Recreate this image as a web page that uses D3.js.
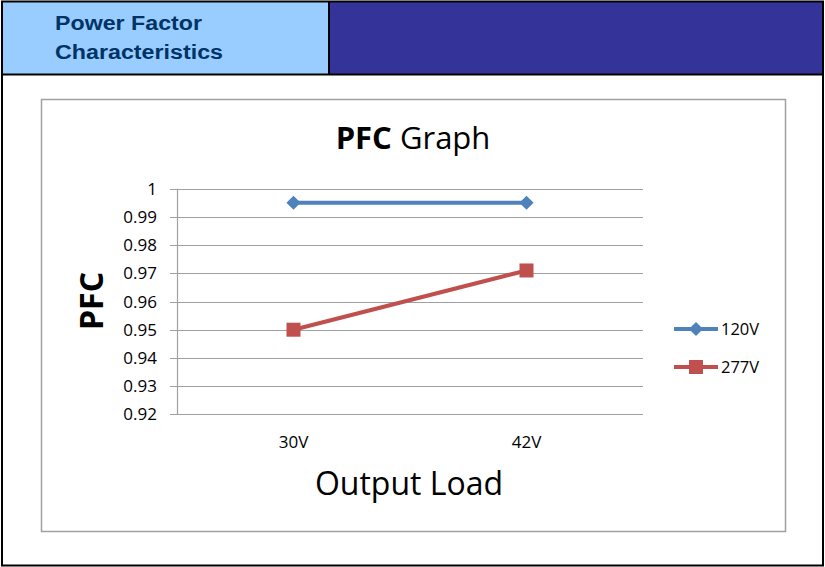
<!DOCTYPE html>
<html>
<head>
<meta charset="utf-8">
<script src="https://cdn.jsdelivr.net/npm/d3@7"></script>
<style>
  body { margin: 0; background: #fff; }
  svg { display: block; }
</style>
</head>
<body>
<svg width="825" height="567"></svg>
<script>
// Chart data
const categories = ['30V', '42V'];
const seriesNames = ['120V', '277V'];
const values120 = [0.995, 0.995];
const values277 = [0.95, 0.971];
const yTicks = [0.92, 0.93, 0.94, 0.95, 0.96, 0.97, 0.98, 0.99, 1];
const colors = ['#4f81bd', '#c0504d'];

const svg = d3.select('svg');
const font = '"Open Sans", "Liberation Sans", sans-serif';

// Header band
svg.append('rect').attr('x', 2).attr('y', 2).attr('width', 327).attr('height', 72).style('fill', '#99ccff');
svg.append('rect').attr('x', 329).attr('y', 2).attr('width', 494).attr('height', 72).style('fill', '#333399');
svg.append('line').attr('x1', 329).attr('x2', 329).attr('y1', 1).attr('y2', 75)
    .style('stroke', '#000').style('stroke-width', 2);
svg.append('line').attr('x1', 1).attr('x2', 824).attr('y1', 74.5).attr('y2', 74.5)
    .style('stroke', '#000').style('stroke-width', 2);

// Header text is drawn wider than normal, so stretch it with textLength
const header = svg.append('g')
    .style('font-family', 'Arial, "Liberation Sans", sans-serif')
    .style('font-weight', 'bold').style('font-size', '20px').style('fill', '#003366');
header.append('text').attr('x', 55).attr('y', 30)
    .attr('textLength', 147).attr('lengthAdjust', 'spacingAndGlyphs').text('Power Factor');
header.append('text').attr('x', 55).attr('y', 59)
    .attr('textLength', 168).attr('lengthAdjust', 'spacingAndGlyphs').text('Characteristics');

// Outer frame
svg.append('rect').attr('x', 2).attr('y', 1.5).attr('width', 821).attr('height', 564)
    .style('fill', 'none').style('stroke', '#000').style('stroke-width', 2);

// Chart box
svg.append('rect').attr('x', 41.5).attr('y', 99.5).attr('width', 744).attr('height', 432)
    .style('fill', '#fff').style('stroke', '#a0a0a0').style('stroke-width', 1.5);

// Plot area
const plotLeft = 177, plotRight = 643, plotTop = 188.7, plotBottom = 414.3;

const x = d3.scaleBand().domain(categories).range([plotLeft, plotRight]);
const y = d3.scaleLinear().domain([0.92, 1]).range([plotBottom, plotTop]);
const cx = c => x(c) + x.bandwidth() / 2;

// Gridlines
svg.append('g').selectAll('line').data(yTicks).join('line')
    .attr('x1', plotLeft - 7).attr('x2', plotRight)
    .attr('y1', d => Math.round(y(d)) + 0.5).attr('y2', d => Math.round(y(d)) + 0.5)
    .style('stroke', '#a0a0a0').style('stroke-width', 1.2);

// Vertical axis line
svg.append('line').attr('x1', plotLeft + 0.5).attr('x2', plotLeft + 0.5).attr('y1', plotTop).attr('y2', plotBottom)
    .style('stroke', '#a0a0a0').style('stroke-width', 1.2);

// Y tick labels
svg.append('g').selectAll('text').data(yTicks).join('text')
    .attr('x', 157).attr('y', d => y(d) + 6)
    .attr('text-anchor', 'end')
    .style('font-family', font).style('font-size', '17px').style('fill', '#000')
    .text(d => d);

// X category labels
svg.append('g').selectAll('text').data(categories).join('text')
    .attr('x', d => cx(d)).attr('y', 448)
    .attr('text-anchor', 'middle')
    .style('font-family', font).style('font-size', '17px').style('fill', '#000')
    .text(d => d);

// Titles
const title = svg.append('text').attr('x', 413).attr('y', 149).attr('text-anchor', 'middle')
    .style('font-family', font).style('font-size', '31px').style('fill', '#000');
title.append('tspan').style('font-weight', 'bold').text('PFC');
title.append('tspan').text(' Graph');

svg.append('text')
    .attr('transform', 'translate(103,301) rotate(-90)')
    .attr('text-anchor', 'middle')
    .style('font-family', font).style('font-size', '32px').style('font-weight', 'bold')
    .text('PFC');

svg.append('text').attr('x', 409).attr('y', 495).attr('text-anchor', 'middle')
    .style('font-family', font).style('font-size', '32px')
    .text('Output Load');

// Series
const series = [values120, values277];
const line = d3.line().x((d, i) => cx(categories[i])).y(d => y(d));

// Diamond = square turned 45 degrees, square marker as is
const markerPath = [d3.symbol().type(d3.symbolSquare).size(100)(), d3.symbol().type(d3.symbolSquare).size(196)()];
const markerRot = [45, 0];

series.forEach((vals, s) => {
    svg.append('path').datum(vals).attr('d', line)
        .style('fill', 'none').style('stroke', colors[s]).style('stroke-width', 4);
    svg.append('g').selectAll('path').data(vals).join('path')
        .attr('transform', (d, i) => `translate(${cx(categories[i])},${y(d)}) rotate(${markerRot[s]})`)
        .attr('d', markerPath[s])
        .style('fill', colors[s]);
});

// Legend
const legendY = [329, 367];
seriesNames.forEach((name, s) => {
    const g = svg.append('g').attr('transform', `translate(674,${legendY[s]})`);
    g.append('line').attr('x1', 0).attr('x2', 44).attr('y1', 0).attr('y2', 0)
        .style('stroke', colors[s]).style('stroke-width', 4);
    g.append('path').attr('transform', `translate(22,0) rotate(${markerRot[s]})`).attr('d', markerPath[s])
        .style('fill', colors[s]);
    g.append('text').attr('x', 47).attr('y', 6)
        .style('font-family', font).style('font-size', '16.5px').text(name);
});
</script>
</body>
</html>
